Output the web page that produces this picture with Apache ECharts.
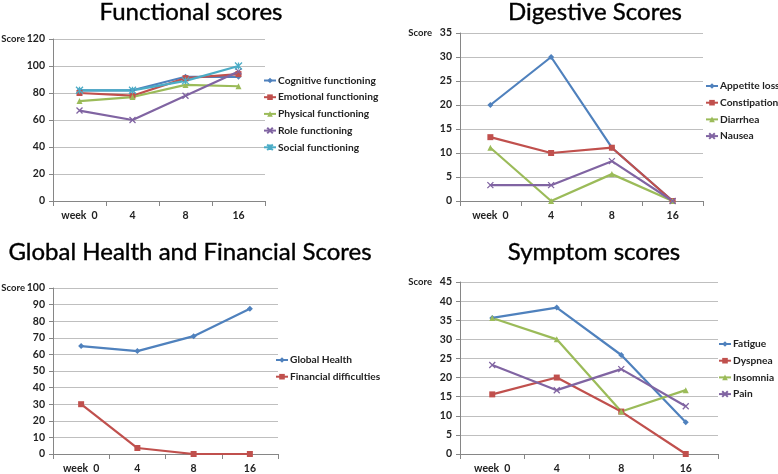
<!DOCTYPE html>
<html>
<head>
<meta charset="utf-8">
<script src="https://cdn.jsdelivr.net/npm/echarts@6/dist/echarts.min.js"></script>
<style>html,body{margin:0;padding:0;background:#fff;}#c{width:778px;height:474px;}</style>
</head>
<body>
<div id="c"></div>
<script>
const categories = ['week  0', '4', '8', '16'];

const functionalNames = ['Cognitive functioning', 'Emotional functioning', 'Physical functioning', 'Role functioning', 'Social functioning'];
const cognitive = [82, 82, 92, 92];
const emotional = [80, 78, 91, 94];
const physical = [74, 77, 86, 85];
const role = [67, 60, 78, 96];
const social = [82, 82, 89, 100];

const digestiveNames = ['Appetite loss', 'Constipation', 'Diarrhea', 'Nausea'];
const appetiteLoss = [20, 30, 11.1, 0];
const constipation = [13.3, 10, 11.1, 0];
const diarrhea = [11.1, 0, 5.6, 0];
const nausea = [3.3, 3.3, 8.3, 0];

const globalNames = ['Global Health', 'Financial difficulties'];
const globalHealth = [65, 62, 71, 87.5];
const financial = [30, 3.6, 0, 0];

const symptomNames = ['Fatigue', 'Dyspnea', 'Insomnia', 'Pain'];
const fatigue = [35.6, 38.3, 25.9, 8.3];
const dyspnea = [15.6, 20, 11.1, 0];
const insomnia = [35.6, 30, 11.1, 16.7];
const pain = [23.3, 16.7, 22.2, 12.5];

const titles = ['Functional scores', 'Digestive Scores', 'Global Health and Financial Scores', 'Symptom scores'];
const yAxisName = 'Score';
const yMax = [120, 35, 100, 45];
const yStep = [20, 5, 10, 5];

const COLORS = ['#4F81BD', '#C0504D', '#9BBB59', '#8064A2', '#4BACC6'];
const SYMS = ['diamond', 'rect', 'triangle', 'path://M0,0L10,10M10,0L0,10', 'path://M0,0L10,10M10,0L0,10M5,0L5,10'];
const SIZES = [6, 6, 6, 6, 7];
const FONT = 'Lato, "Open Sans", sans-serif';

const grids = [
  {left: 53, top: 39, width: 212, height: 162},
  {left: 460, top: 33, width: 243, height: 168},
  {left: 53, top: 288, width: 225, height: 168},
  {left: 460, top: 282, width: 258, height: 174}
];
const titlePos = [[191, 0], [595, 0], [190, 240], [594, 240]];
const legendPos = [[263, 75.5], [705, 81], [275, 355], [718, 339]];

const panels = [
  [functionalNames, [cognitive, emotional, physical, role, social]],
  [digestiveNames, [appetiteLoss, constipation, diarrhea, nausea]],
  [globalNames, [globalHealth, financial]],
  [symptomNames, [fatigue, dyspnea, insomnia, pain]]
];

const option = {
  backgroundColor: '#fff',
  animation: false,
  title: titles.map((t, i) => ({
    text: t, left: titlePos[i][0], top: titlePos[i][1], textAlign: 'center', padding: 0,
    textStyle: {fontFamily: FONT, fontSize: 24, fontWeight: 'normal', color: '#000', textBorderColor: '#000', textBorderWidth: 0.4}
  })),
  grid: grids,
  xAxis: grids.map((g, i) => ({
    type: 'category', gridIndex: i, data: categories, boundaryGap: true,
    axisLine: {lineStyle: {color: '#868686', width: 1}},
    axisTick: {show: true, length: 5, lineStyle: {color: '#868686'}},
    axisLabel: {fontFamily: FONT, fontSize: 10.5, fontWeight: 'bold', color: '#222', margin: 9},
    splitLine: {show: false}
  })),
  yAxis: grids.map((g, i) => ({
    type: 'value', gridIndex: i, min: 0, max: yMax[i], interval: yStep[i],
    axisLine: {show: true, lineStyle: {color: '#868686', width: 1}},
    axisTick: {show: true, length: 4, lineStyle: {color: '#868686'}},
    axisLabel: {fontFamily: FONT, fontSize: 10.5, fontWeight: 'bold', color: '#222', margin: 8},
    splitLine: {show: true, lineStyle: {color: '#BFBFBF', width: 1}}
  })),
  legend: panels.map((p, i) => ({
    orient: 'vertical', left: legendPos[i][0], top: legendPos[i][1], padding: 0,
    itemWidth: 12, itemHeight: 7, itemGap: 6.7,
    data: p[0],
    textStyle: {fontFamily: FONT, fontSize: 10.2, fontWeight: 'bold', color: '#222', lineHeight: 10, height: 10, padding: [0, 0, 0, -3]}
  })),
  series: []
};

panels.forEach((p, i) => {
  p[1].forEach((vals, k) => {
    option.series.push({
      type: 'line', name: p[0][k], xAxisIndex: i, yAxisIndex: i, data: vals,
      symbol: SYMS[k], symbolSize: SIZES[k], showSymbol: true,
      lineStyle: {color: COLORS[k], width: 2.2},
      itemStyle: {color: COLORS[k], borderColor: COLORS[k], borderWidth: k >= 3 ? 1.3 : 0},
      emphasis: {disabled: true}
    });
  });
});

const chart = echarts.init(document.getElementById('c'), null, {renderer: 'canvas'});
chart.setOption(option);

// "Score" labels beside the top tick of each value axis
const graphics = grids.map((g, i) => {
  const yTop = chart.convertToPixel({yAxisIndex: i}, yMax[i]);
  return {
    type: 'text', x: g.left - 28, y: yTop,
    style: {text: yAxisName, font: 'bold 9.5px ' + FONT, fill: '#222', align: 'right', verticalAlign: 'middle', textAlign: 'right', textVerticalAlign: 'middle'}
  };
});
chart.setOption({graphic: graphics});
</script>
</body>
</html>
